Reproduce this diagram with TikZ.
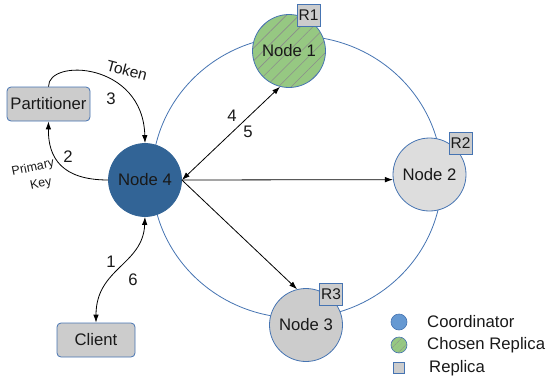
\documentclass[tikz,border=0pt]{standalone}
\usepackage{fontspec}
\setmainfont{Liberation Sans}
\usetikzlibrary{arrows.meta,patterns.meta}
\definecolor{ringblue}{RGB}{70,116,178}
\definecolor{coordblue}{RGB}{50,100,150}
\definecolor{legblue}{RGB}{102,153,210}
\definecolor{replgreen}{RGB}{150,200,130}
\definecolor{lightgray}{RGB}{221,221,221}
\definecolor{midgray}{RGB}{204,204,204}
\definecolor{txt}{RGB}{25,25,25}
\tikzset{
  base/.style={font=\fontsize{16.7}{19}\selectfont, text=txt},
  nodecirc/.style={base, circle, minimum size=73pt, inner sep=0pt, draw=ringblue, line width=0.8pt},
  rbox/.style={font=\fontsize{15.5}{18}\selectfont, text=txt, draw=ringblue, line width=0.8pt, fill=midgray, minimum width=23pt, minimum height=22pt, inner sep=0pt},
  roundbox/.style={base, draw=ringblue, line width=0.8pt, fill=midgray, rounded corners=4pt, inner sep=0pt},
  hatch/.style={preaction={fill=replgreen}, pattern={Lines[angle=45,distance=9pt,line width=0.6pt]}, pattern color=gray!90},
  smallhatch/.style={preaction={fill=replgreen}, pattern={Lines[angle=45,distance=4pt,line width=0.5pt]}, pattern color=gray!90},
  conn/.style={line width=0.8pt, black},
  tip/.style={-{Latex[length=8pt,width=5.5pt]}},
  lbl/.style={base, inner sep=0pt},
  pklbl/.style={lbl, rotate=12, font=\fontsize{12.5}{14}\selectfont},
  legtxt/.style={base, anchor=west, inner sep=0pt}
}
\begin{document}
\begin{tikzpicture}[x=1pt,y=-1pt]
\useasboundingbox (0,0) rectangle (549,378);
% ring
\draw[ringblue, line width=0.8pt] (297,177) ellipse [x radius=145, y radius=141];
% nodes
\node[nodecirc, fill=coordblue, draw=coordblue] (n4) at (145,180) {Node 4};
\node[nodecirc, hatch] (n1) at (289,51) {Node 1};
\node[nodecirc, fill=lightgray] (n2) at (429.5,174.5) {Node 2};
\node[nodecirc, fill=midgray] (n3) at (306,325) {Node 3};
\node[rbox] (r1) at (308.5,15) {R1};
\node[rbox] (r2) at (460.5,143.5) {R2};
\node[rbox] (r3) at (331,294.5) {R3};
\node[roundbox, minimum width=83pt, minimum height=34pt] (part) at (48.5,104) {Partitioner};
\node[roundbox, minimum width=78pt, minimum height=34pt] (cl) at (96,340) {Client};
% connectors
\coordinate (src) at (n4.east);
\draw[conn, tip] (part.north) .. controls (48,58) and (143,62) .. (n4.north);
\draw[conn, tip] (n4.west) .. controls (62,180) and (48,158) .. (part.south);
\draw[conn, {Latex[length=8pt,width=5.5pt]}-{Latex[length=8pt,width=5.5pt]}] (cl.north) .. controls (96,268) and (143,265) .. (n4.south);
\draw[conn, {Latex[length=8pt,width=5.5pt]}-{Latex[length=8pt,width=5.5pt]}] (src) -- (n1.256);
\draw[conn, tip] (src) -- (n2.188);
\draw[conn, tip] (src) -- (n3.104);
% labels
\node[lbl, rotate=-15, font=\fontsize{15.5}{18}\selectfont] (ltok) at (127,70) {Token};
\node[lbl] (l3) at (111,99) {3};
\node[lbl] (l2) at (68,157) {2};
\node[pklbl] (lpk1) at (33,168) {Primary};
\node[pklbl] (lpk2) at (41,184) {Key};
\node[lbl] (l1) at (111,262) {1};
\node[lbl] (l6) at (133,280) {6};
\node[lbl] (l4) at (232,116) {4};
\node[lbl] (l5) at (248,132) {5};
% legend
\node[circle, minimum size=16pt, inner sep=0pt, fill=legblue, draw=ringblue, line width=0.6pt] (lg1) at (399,322) {};
\node[circle, minimum size=16pt, inner sep=0pt, smallhatch, draw=ringblue, line width=0.6pt] (lg2) at (399,345) {};
\node[minimum size=11pt, inner sep=0pt, fill=midgray, draw=ringblue, line width=0.6pt] (lg3) at (399,368) {};
\node[legtxt] (t1) at (427,322) {Coordinator};
\node[legtxt] (t2) at (427,345) {Chosen Replica};
\node[legtxt] (t3) at (429,368) {Replica};
\end{tikzpicture}
\end{document}
